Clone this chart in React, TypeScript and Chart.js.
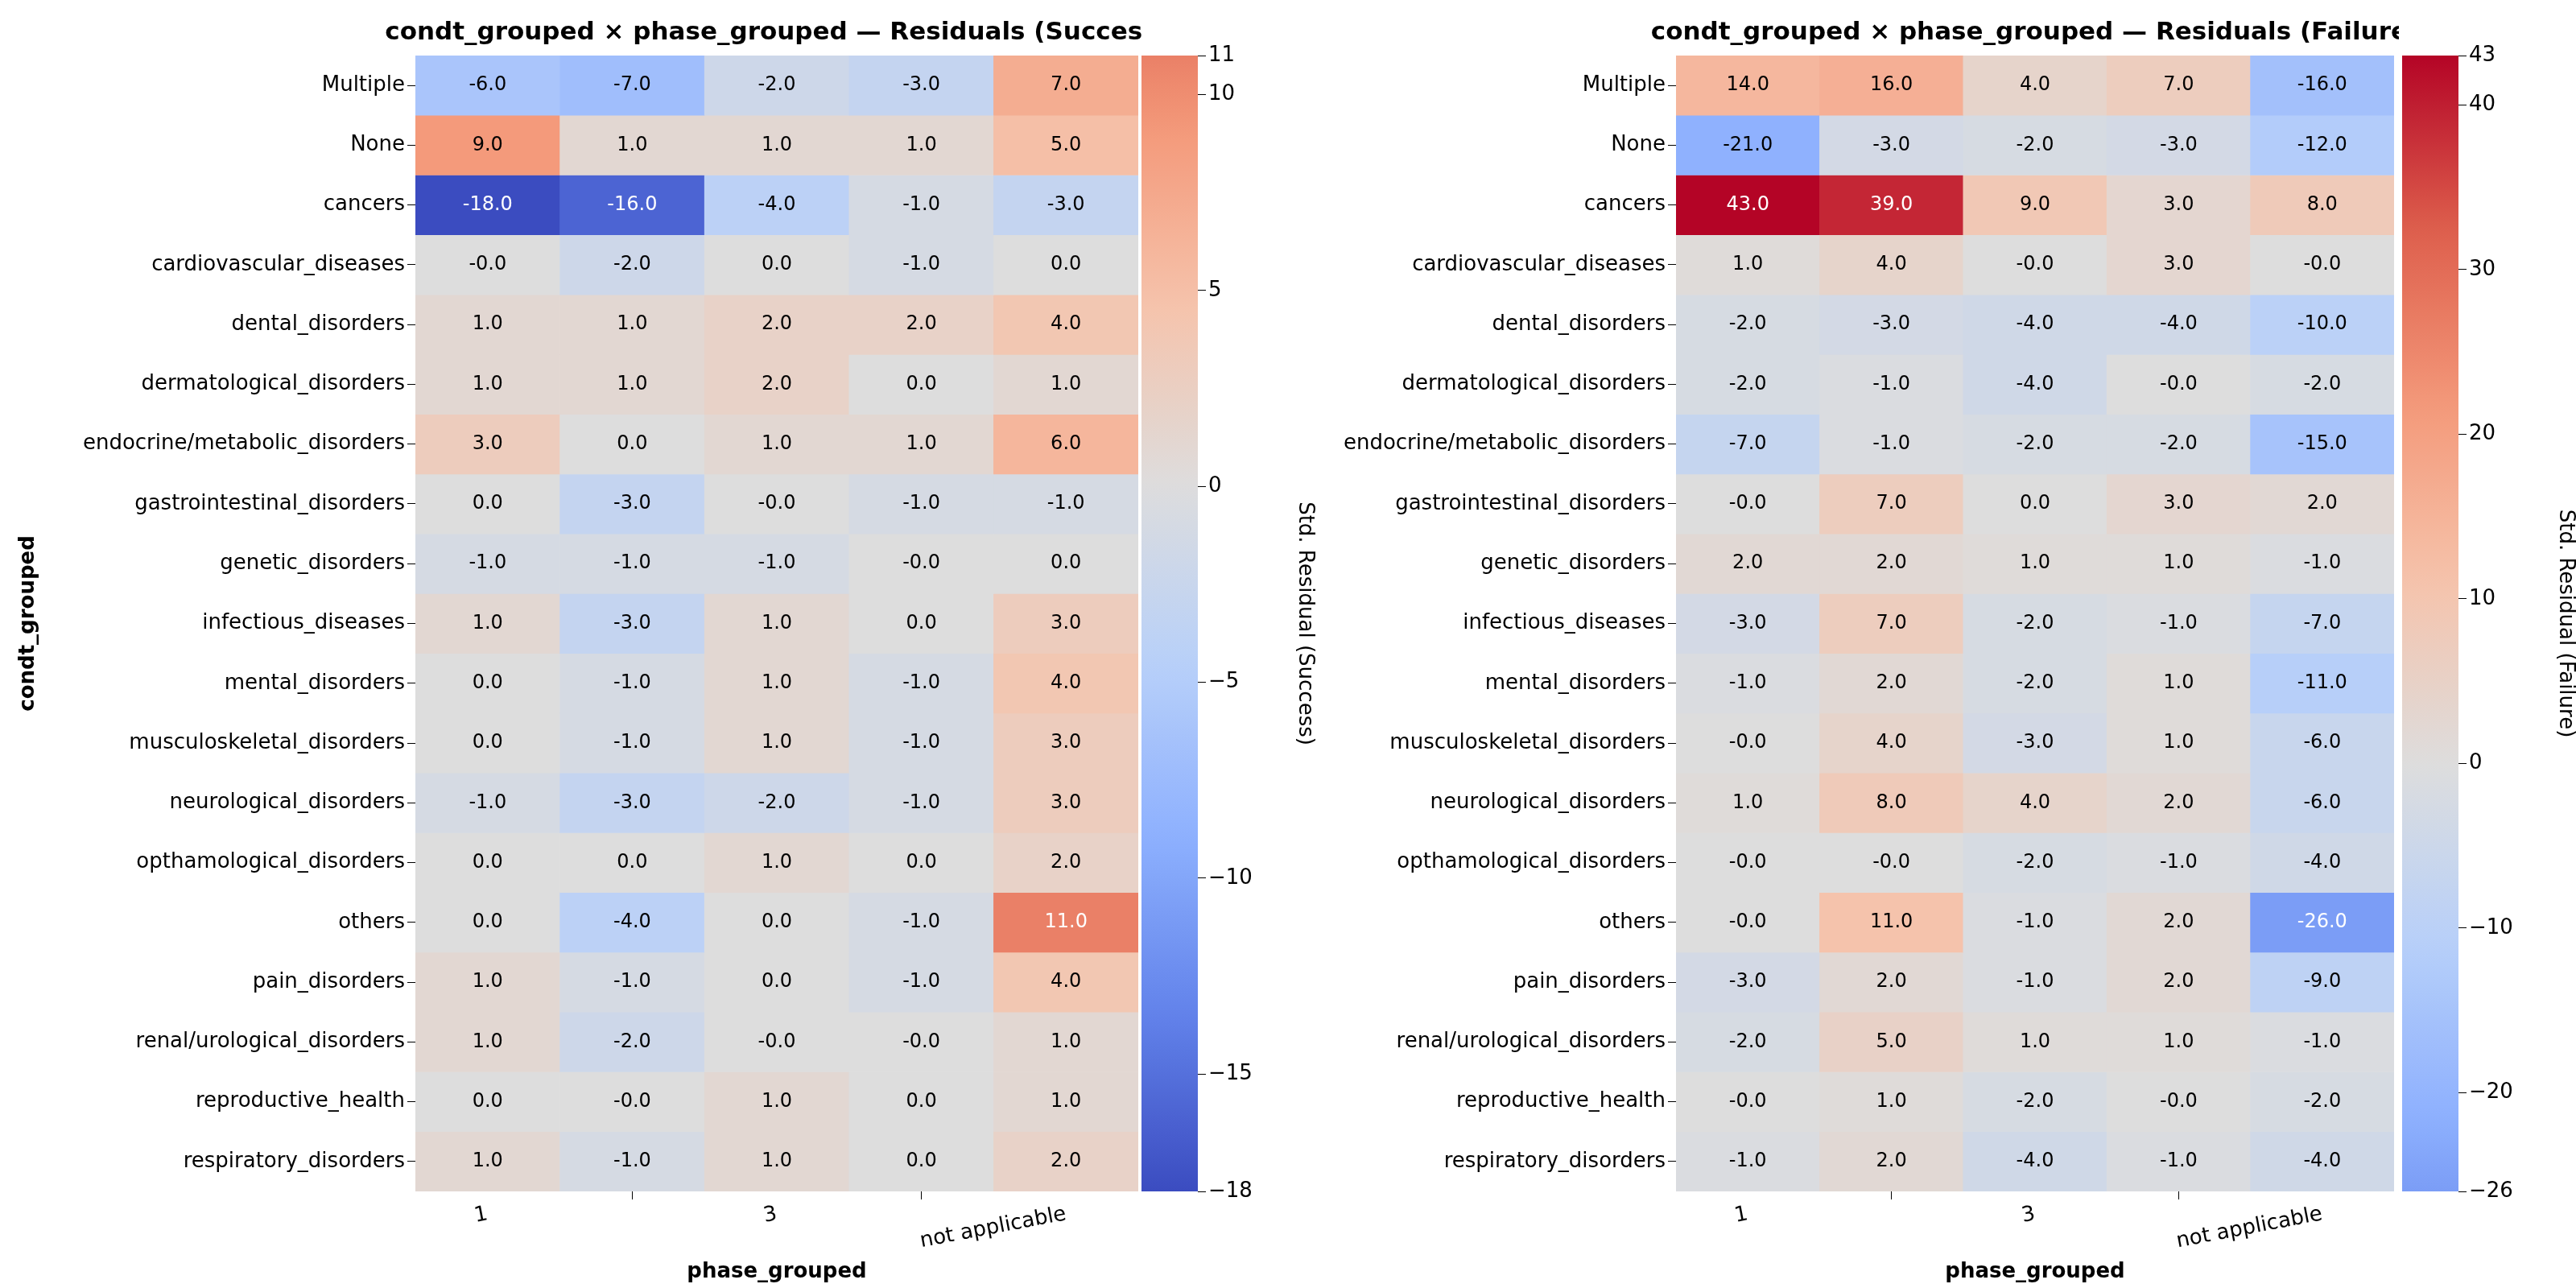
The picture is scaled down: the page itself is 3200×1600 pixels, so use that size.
import { useEffect, useRef } from "react"
import { Chart, registerables, type ChartConfiguration, type Plugin } from "chart.js"

Chart.register(...registerables)

const conditions = [
  "Multiple", "None", "cancers", "cardiovascular_diseases", "dental_disorders",
  "dermatological_disorders", "endocrine/metabolic_disorders", "gastrointestinal_disorders",
  "genetic_disorders", "infectious_diseases", "mental_disorders", "musculoskeletal_disorders",
  "neurological_disorders", "opthamological_disorders", "others", "pain_disorders",
  "renal/urological_disorders", "reproductive_health", "respiratory_disorders",
]
const phases = ["1", "2", "3", "4", "not applicable"]

const successResiduals = [
  [-6, -7, -2, -3, 7],
  [9, 1, 1, 1, 5],
  [-18, -16, -4, -1, -3],
  [-0, -2, 0, -1, 0],
  [1, 1, 2, 2, 4],
  [1, 1, 2, 0, 1],
  [3, 0, 1, 1, 6],
  [0, -3, -0, -1, -1],
  [-1, -1, -1, -0, 0],
  [1, -3, 1, 0, 3],
  [0, -1, 1, -1, 4],
  [0, -1, 1, -1, 3],
  [-1, -3, -2, -1, 3],
  [0, 0, 1, 0, 2],
  [0, -4, 0, -1, 11],
  [1, -1, 0, -1, 4],
  [1, -2, -0, -0, 1],
  [0, -0, 1, 0, 1],
  [1, -1, 1, 0, 2],
]
const failureResiduals = [
  [14, 16, 4, 7, -16],
  [-21, -3, -2, -3, -12],
  [43, 39, 9, 3, 8],
  [1, 4, -0, 3, -0],
  [-2, -3, -4, -4, -10],
  [-2, -1, -4, -0, -2],
  [-7, -1, -2, -2, -15],
  [-0, 7, 0, 3, 2],
  [2, 2, 1, 1, -1],
  [-3, 7, -2, -1, -7],
  [-1, 2, -2, 1, -11],
  [-0, 4, -3, 1, -6],
  [1, 8, 4, 2, -6],
  [-0, -0, -2, -1, -4],
  [-0, 11, -1, 2, -26],
  [-3, 2, -1, 2, -9],
  [-2, 5, 1, 1, -1],
  [-0, 1, -2, -0, -2],
  [-1, 2, -4, -1, -4],
]

const FONT = "'DejaVu Sans', sans-serif"

// coolwarm colormap stops
const coolwarm: [number, number, number][] = [
  [59, 76, 192], [98, 130, 234], [141, 176, 254], [184, 208, 249], [221, 221, 221],
  [245, 196, 173], [244, 154, 123], [222, 96, 77], [180, 4, 38],
]
function cmap(t: number): [number, number, number] {
  t = Math.max(0, Math.min(1, t))
  const p = t * (coolwarm.length - 1)
  const i = Math.min(Math.floor(p), coolwarm.length - 2)
  const f = p - i
  const a = coolwarm[i], b = coolwarm[i + 1]
  return [0, 1, 2].map((k) => Math.round(a[k] + (b[k] - a[k]) * f)) as [number, number, number]
}
const rgb = (c: number[]) => `rgb(${c[0]},${c[1]},${c[2]})`

// seaborn-style centered norm: colours sliced from a symmetric range around 0
function colorFor(v: number, vmin: number, vmax: number) {
  const r = Math.max(vmax, -vmin)
  return cmap((v + r) / (2 * r))
}
function isDark(c: number[]) {
  const lin = c.map((x) => {
    const s = x / 255
    return s <= 0.03928 ? s / 12.92 : Math.pow((s + 0.055) / 1.055, 2.4)
  })
  return 0.2126 * lin[0] + 0.7152 * lin[1] + 0.0722 * lin[2] < 0.408
}
const fmt = (v: number) => (Object.is(v, -0) ? "-" : "") + v.toFixed(1)

function Heatmap({ values, title, showYTitle, left, yWidth }: {
  values: number[][]; title: string; showYTitle: boolean; left: number; yWidth: number
}) {
  const ref = useRef<HTMLCanvasElement>(null)
  useEffect(() => {
    if (!ref.current) return
    const flat = values.flat()
    const vmin = Math.min(...flat), vmax = Math.max(...flat)

    const labelPlugin: Plugin<"bar"> = {
      id: "cellLabels",
      afterDatasetsDraw(chart) {
        const c = chart.ctx
        c.save()
        c.font = `24px ${FONT}`
        c.textAlign = "center"
        c.textBaseline = "middle"
        chart.data.datasets.forEach((_, di) => {
          chart.getDatasetMeta(di).data.forEach((el, ci) => {
            const v = values[di][ci]
            const p = el.getCenterPoint()
            c.fillStyle = isDark(colorFor(v, vmin, vmax)) ? "#fff" : "#000"
            c.fillText(fmt(v), p.x, p.y)
          })
        })
        const a = chart.chartArea
        c.font = `bold 31px ${FONT}`
        c.fillStyle = "#000"
        c.fillText(title, (a.left + a.right) / 2, 41)
        c.restore()
      },
    }

    const config: ChartConfiguration<"bar"> = {
      type: "bar",
      data: {
        labels: phases,
        datasets: values.map((row, ri) => ({
          label: conditions[ri],
          data: row.map(() => [ri, ri + 1] as [number, number]),
          backgroundColor: row.map((v) => rgb(colorFor(v, vmin, vmax))),
          borderWidth: 0,
          barPercentage: 1,
          categoryPercentage: 1,
          grouped: false,
        })),
      },
      options: {
        animation: false,
        responsive: false,
        layout: { padding: { left: 16, right: 6, top: 69, bottom: 0 } },
        plugins: { legend: { display: false }, tooltip: { enabled: false } },
        scales: {
          x: {
            grid: { drawOnChartArea: false, tickLength: 10, color: "#000" },
            border: { display: false },
            ticks: { color: "#000", font: { family: FONT, size: 26 } },
            title: { display: true, text: "phase_grouped", color: "#000", font: { family: FONT, size: 26, weight: "bold" } },
            afterFit: (s) => { s.height = 120 },
          },
          y: {
            type: "linear",
            reverse: true,
            min: 0,
            max: conditions.length,
            grid: { drawOnChartArea: false, tickLength: 10, color: "#000" },
            border: { display: false },
            afterBuildTicks: (s) => { s.ticks = conditions.map((_, i) => ({ value: i + 0.5 })) },
            ticks: {
              color: "#000",
              font: { family: FONT, size: 26 },
              autoSkip: false,
              callback: (v) => conditions[Math.floor(Number(v))],
            },
            title: { display: showYTitle, text: "condt_grouped", color: "#000", font: { family: FONT, size: 26, weight: "bold" } },
            afterFit: (s) => { s.width = yWidth },
          },
        },
      },
      plugins: [labelPlugin],
    }
    const chart = new Chart(ref.current, config)
    return () => chart.destroy()
  }, [values, title, showYTitle, yWidth])
  return <canvas ref={ref} width={1420} height={1600} style={{ position: "absolute", left, top: 0, width: 1420, height: 1600 }} />
}

function Colorbar({ values, label, step, left, yWidth }: {
  values: number[][]; label: string; step: number; left: number; yWidth: number
}) {
  const ref = useRef<HTMLCanvasElement>(null)
  useEffect(() => {
    if (!ref.current) return
    const flat = values.flat()
    const vmin = Math.min(...flat), vmax = Math.max(...flat)
    const config: ChartConfiguration<"bar"> = {
      type: "bar",
      data: {
        labels: [""],
        datasets: [{
          data: [[vmin, vmax]],
          borderWidth: 0,
          barPercentage: 1,
          categoryPercentage: 1,
          backgroundColor: (ctx) => {
            const { chart } = ctx
            const y = chart.scales.y
            if (!chart.chartArea || !y) return "#ddd"
            const g = chart.ctx.createLinearGradient(0, y.getPixelForValue(vmin), 0, y.getPixelForValue(vmax))
            for (let i = 0; i <= 40; i++) {
              const v = vmin + ((vmax - vmin) * i) / 40
              g.addColorStop(i / 40, rgb(colorFor(v, vmin, vmax)))
            }
            return g
          },
        }],
      },
      options: {
        animation: false,
        responsive: false,
        layout: { padding: { left: 18, right: 0, top: 69, bottom: 120 } },
        plugins: { legend: { display: false }, tooltip: { enabled: false } },
        scales: {
          x: { display: false },
          y: {
            position: "right",
            min: vmin,
            max: vmax,
            grid: { drawOnChartArea: false, tickLength: 10, color: "#000" },
            border: { display: false },
            ticks: {
              stepSize: step,
              color: "#000",
              font: { family: FONT, size: 26 },
              callback: (v) => String(v).replace("-", "\u2212"),
            },
            title: { display: true, text: label, color: "#000", font: { family: FONT, size: 26 } },
            afterFit: (s) => { s.width = yWidth },
          },
        },
      },
    }
    const chart = new Chart(ref.current, config)
    return () => chart.destroy()
  }, [values, label, step, yWidth])
  return <canvas ref={ref} width={240} height={1600} style={{ position: "absolute", left, top: 0, width: 240, height: 1600 }} />
}

export default function App() {
  useEffect(() => {
    document.body.style.margin = "0"
    document.body.style.background = "#fff"
  }, [])
  return (
    <div style={{ position: "relative", width: 3200, height: 1600, background: "#fff" }}>
      <Heatmap values={successResiduals} title="condt_grouped × phase_grouped — Residuals (Success)" showYTitle left={0} yWidth={500} />
      <Colorbar values={successResiduals} label="Std. Residual (Success)" step={5} left={1400} yWidth={152} />
      <Heatmap values={failureResiduals} title="condt_grouped × phase_grouped — Residuals (Failure)" showYTitle={false} left={1560} yWidth={506} />
      <Colorbar values={failureResiduals} label="Std. Residual (Failure)" step={10} left={2966} yWidth={152} />
    </div>
  )
}
